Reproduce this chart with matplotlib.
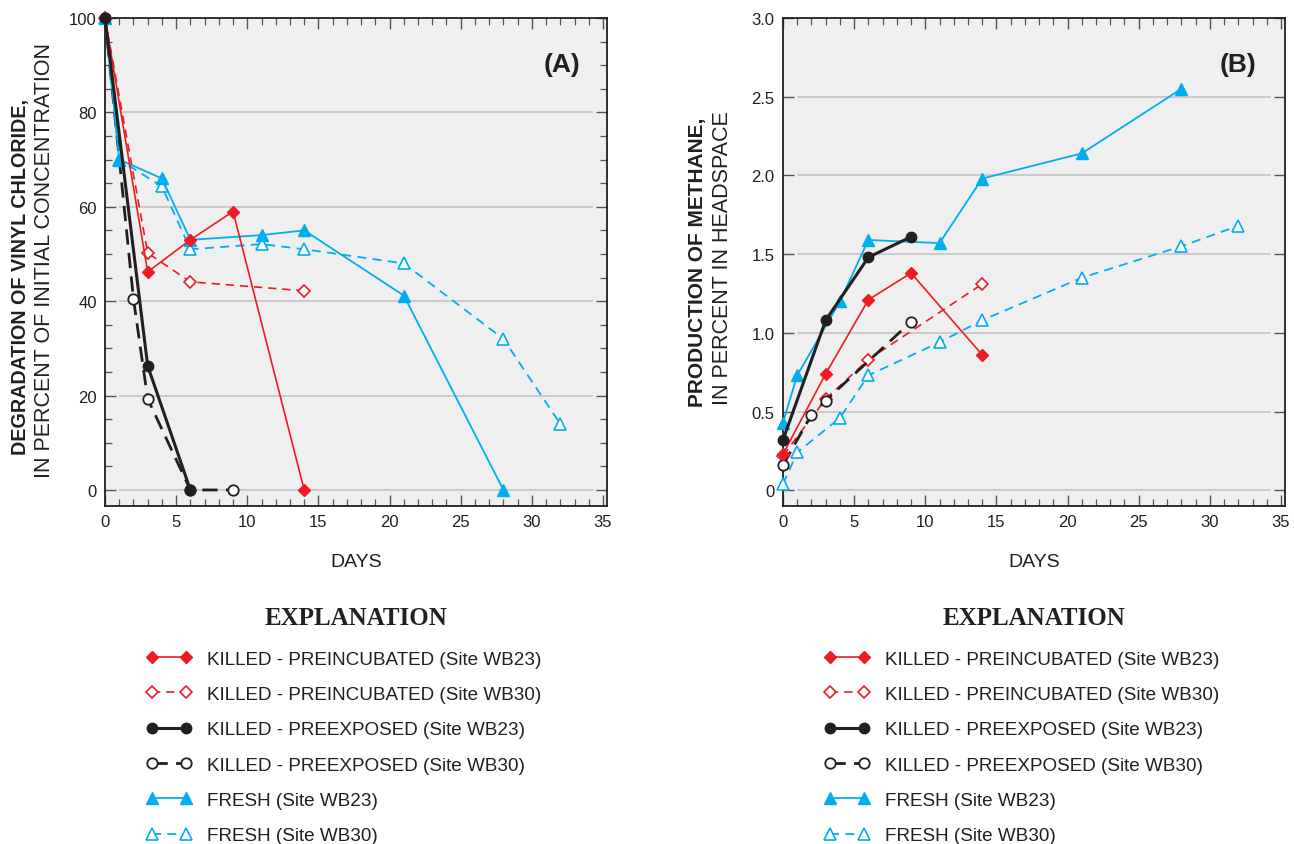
import matplotlib.pyplot as plt
from matplotlib.ticker import MultipleLocator, FuncFormatter

plt.rcParams['font.family'] = ['Liberation Sans', 'DejaVu Sans']

RED = '#ed1c24'
BLUE = '#00aeef'
BLACK = '#231f20'

# Panel A: degradation of vinyl chloride (% of initial)
a_pre23_x = [0, 3, 6, 9, 14]
a_pre23_y = [100, 46.2, 53, 59, 0]
a_pre30_x = [0, 3, 6, 14]
a_pre30_y = [100, 50.2, 44.1, 42.2]
a_exp23_x = [0, 3, 6]
a_exp23_y = [100, 26.3, 0]
a_exp30_x = [0, 2, 3, 6, 9]
a_exp30_y = [100, 40.5, 19.3, 0, 0]
a_fr23_x = [0, 1, 4, 6, 11, 14, 21, 28]
a_fr23_y = [100, 70, 66, 53, 54, 55, 41.2, 0]
a_fr30_x = [0, 1, 4, 6, 11, 14, 21, 28, 32]
a_fr30_y = [100, 70, 64.3, 51, 52.1, 51, 48, 32, 14]

# Panel B: methane production (% in headspace)
b_pre23_x = [0, 3, 6, 9, 14]
b_pre23_y = [0.23, 0.74, 1.21, 1.38, 0.86]
b_pre30_x = [0, 3, 6, 14]
b_pre30_y = [0.22, 0.58, 0.83, 1.31]
b_exp23_x = [0, 3, 6, 9]
b_exp23_y = [0.32, 1.08, 1.48, 1.61]
b_exp30_x = [0, 2, 3, 9]
b_exp30_y = [0.16, 0.48, 0.57, 1.07]
b_fr23_x = [0, 1, 4, 6, 11, 14, 21, 28]
b_fr23_y = [0.43, 0.73, 1.20, 1.59, 1.57, 1.98, 2.14, 2.55]
b_fr30_x = [0, 1, 4, 6, 11, 14, 21, 28, 32]
b_fr30_y = [0.04, 0.24, 0.46, 0.73, 0.94, 1.08, 1.35, 1.55, 1.68]

labels = ['KILLED - PREINCUBATED (Site WB23)',
          'KILLED - PREINCUBATED (Site WB30)',
          'KILLED - PREEXPOSED (Site WB23)',
          'KILLED - PREEXPOSED (Site WB30)',
          'FRESH (Site WB23)',
          'FRESH (Site WB30)']

styles = [
    dict(color=RED, lw=1.2, ls='-', marker='D', ms=6.5, mfc=RED, mec=RED),
    dict(color=RED, lw=1.2, ls=(0, (5, 3.5)), marker='D', ms=6.5, mfc='white', mec=RED, mew=1.2),
    dict(color=BLACK, lw=2.2, ls='-', marker='o', ms=7.5, mfc=BLACK, mec=BLACK),
    dict(color=BLACK, lw=2.0, ls=(0, (5.5, 3)), marker='o', ms=7.5, mfc='white', mec=BLACK, mew=1.3),
    dict(color=BLUE, lw=1.3, ls='-', marker='^', ms=8.5, mfc=BLUE, mec=BLUE),
    dict(color=BLUE, lw=1.3, ls=(0, (5, 3.5)), marker='^', ms=8.5, mfc='white', mec=BLUE, mew=1.2),
]

fig = plt.figure(figsize=(12.94, 8.45), dpi=100)
W, H = 1294, 845
axA = fig.add_axes([105 / W, 1 - 507 / H, 502 / W, 488 / H])
axB = fig.add_axes([783 / W, 1 - 507 / H, 502 / W, 488 / H])


def style_axes(ax, ymin, ymax, ymaj, ymin_step, gridvals):
    ax.set_facecolor('#efefef')
    ax.set_xlim(0, 35.28)
    ax.set_ylim(ymin, ymax)
    ax.xaxis.set_major_locator(MultipleLocator(5))
    ax.xaxis.set_minor_locator(MultipleLocator(1))
    ax.yaxis.set_major_locator(MultipleLocator(ymaj))
    if ymin_step:
        ax.yaxis.set_minor_locator(MultipleLocator(ymin_step))
    ax.tick_params(which='both', direction='in', top=True, right=True,
                   labelsize=12, colors='#555555', labelcolor='#231f20', pad=6)
    ax.tick_params(which='major', length=8, width=1.0)
    ax.tick_params(which='minor', length=5, width=0.9)
    for s in ax.spines.values():
        s.set_color('#231f20')
        s.set_linewidth(1.3)
    for g in gridvals:
        ax.axhline(g, xmin=0.03, xmax=0.97, color='#c4c4c4', lw=1.2, zorder=0.5)
    ax.set_xlabel('DAYS', fontsize=14, labelpad=17, color='#231f20')


style_axes(axA, -3.4, 100, 20, 5, [0, 20, 40, 60, 80])
style_axes(axB, -0.1, 3.0, 0.5, None, [0, 0.5, 1.0, 1.5, 2.0, 2.5])
axB.yaxis.set_major_formatter(FuncFormatter(lambda v, p: '0' if abs(v) < 1e-9 else f'{v:.1f}'))

seriesA = [(a_pre23_x, a_pre23_y), (a_pre30_x, a_pre30_y), (a_exp23_x, a_exp23_y),
           (a_exp30_x, a_exp30_y), (a_fr23_x, a_fr23_y), (a_fr30_x, a_fr30_y)]
seriesB = [(b_pre23_x, b_pre23_y), (b_pre30_x, b_pre30_y), (b_exp23_x, b_exp23_y),
           (b_exp30_x, b_exp30_y), (b_fr23_x, b_fr23_y), (b_fr30_x, b_fr30_y)]

# open-marker series first, filled ones on top
order = [5, 1, 3, 4, 0, 2]
for ax, series in [(axA, seriesA), (axB, seriesB)]:
    handles = [None] * 6
    for z, i in enumerate(order):
        x, y = series[i]
        handles[i], = ax.plot(x, y, clip_on=False, zorder=3 + z, label=labels[i], **styles[i])
    leg = ax.legend(handles, labels, loc='upper left', bbox_to_anchor=(0.083, -0.296),
                    frameon=False, fontsize=13.6, numpoints=2, handlelength=2.4,
                    handletextpad=0.8, labelspacing=0.96, borderaxespad=0, borderpad=0)
    for t in leg.get_texts():
        t.set_color('#231f20')
    ax.text(0.5, -0.228, 'EXPLANATION', transform=ax.transAxes, ha='center', va='center',
            fontsize=18, fontweight='bold', family=['Liberation Serif', 'DejaVu Serif'],
            color='#231f20')

axA.text(0.910, 0.906, '(A)', transform=axA.transAxes, fontsize=19, fontweight='bold',
         ha='center', va='center', color='#231f20')
axB.text(0.906, 0.906, '(B)', transform=axB.transAxes, fontsize=19, fontweight='bold',
         ha='center', va='center', color='#231f20')

fig.text(21 / W, 1 - 277 / H, 'DEGRADATION OF VINYL CHLORIDE,', rotation=90,
         ha='center', va='center', fontsize=14.2, fontweight='bold', color='#231f20')
fig.text(45 / W, 1 - 260 / H, 'IN PERCENT OF INITIAL CONCENTRATION', rotation=90,
         ha='center', va='center', fontsize=15.5, color='#231f20')
fig.text(697 / W, 1 - 262 / H, 'PRODUCTION OF METHANE,', rotation=90,
         ha='center', va='center', fontsize=15, fontweight='bold', color='#231f20')
fig.text(722 / W, 1 - 258 / H, 'IN PERCENT IN HEADSPACE', rotation=90,
         ha='center', va='center', fontsize=15.5, color='#231f20')

fig.savefig('out.png', dpi=100, facecolor='white')
